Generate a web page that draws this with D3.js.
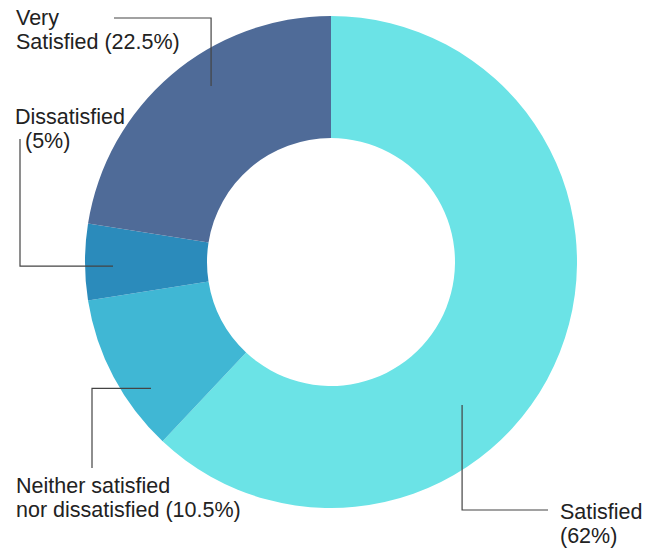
<!DOCTYPE html>
<html><head><meta charset="utf-8">
<script src="https://cdn.jsdelivr.net/npm/d3@7"></script>
<style>html,body{margin:0;padding:0;background:#fff;}</style>
</head><body>
<svg id="c" width="659" height="551"></svg>
<script>
const categories = ["Satisfied", "Neither satisfied nor dissatisfied", "Dissatisfied", "Very Satisfied"];
const values = [62, 10.5, 5, 22.5];
const labelLines = [["Satisfied", "(62%)"], ["Neither satisfied", "nor dissatisfied (10.5%)"], ["Dissatisfied", "(5%)"], ["Very", "Satisfied (22.5%)"]];
const colors = ["#6be3e6", "#40b7d4", "#2b8bbb", "#4f6b98"];

const svg = d3.select("#c");
const cx = 331, cy = 262, R = 246, r0 = 124;
const g = svg.append("g").attr("transform", `translate(${cx},${cy})`);

const pie = d3.pie().sort(null).value(d => d.v);
const data = pie(categories.map((c, i) => ({c, v: values[i], i})));
const arc = d3.arc().innerRadius(r0).outerRadius(R);

g.selectAll("path").data(data).join("path")
  .attr("d", arc).attr("fill", d => colors[d.data.i]);

// annotation layout: anchor as fraction into slice + radius, then elbow
const ann = [
  {f: 0.616, rad: 194, path: (a) => [a, [a[0], 510 - cy], [548 - cx, 510 - cy]], tx: [[560,519],[560,543]]},
  {f: 0.31, rad: 220, path: (a) => [a, [92 - cx, a[1]], [92 - cx, 468 - cy]], tx: [[16,493],[16,517]]},
  {f: 0.44, rad: 218, path: (a) => [a, [20 - cx, a[1]], [20 - cx, 139 - cy]], tx: [[15,124],[25,148]]},
  {f: 0.577, rad: 213, path: (a) => [a, [a[0], 18 - cy], [114 - cx, 18 - cy]], tx: [[16,25],[16,49]]}
];

data.forEach((d, i) => {
  const A = ann[i];
  const th = d.startAngle + A.f * (d.endAngle - d.startAngle);
  const p = [A.rad * Math.sin(th), -A.rad * Math.cos(th)];
  g.append("path")
    .attr("d", d3.line()(A.path(p)))
    .attr("fill", "none").attr("stroke", "#444").attr("stroke-width", 1.2);
  labelLines[i].forEach((t, k) => {
    svg.append("text")
      .attr("x", A.tx[k][0]).attr("y", A.tx[k][1])
      .attr("font-family", "Liberation Sans, Arial, sans-serif")
      .attr("font-size", "21.5px").attr("fill", "#222")
      .text(t);
  });
});
</script>
</body></html>
